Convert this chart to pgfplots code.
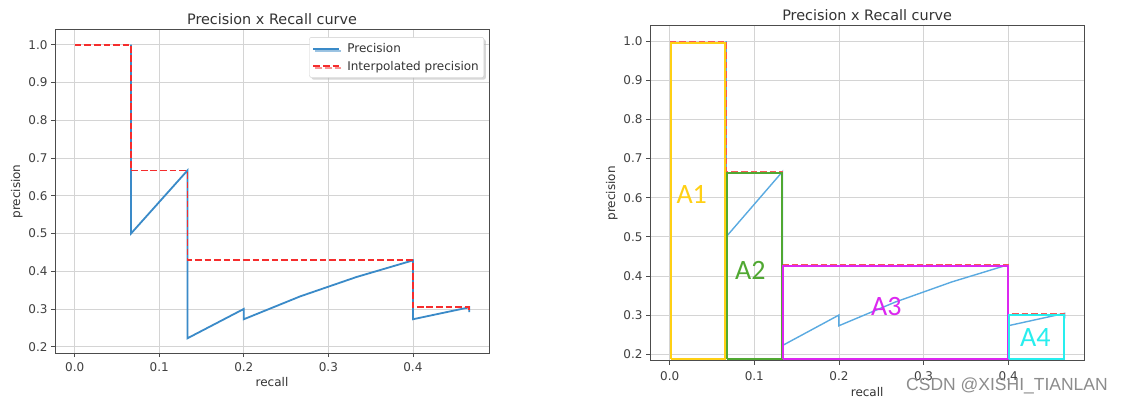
\documentclass[border=0pt]{standalone}
\usepackage{fontspec}
\setmainfont{DejaVu Sans}
\newfontfamily\calib{Carlito}
\newfontfamily\wmfont{Liberation Sans}
\usepackage{pgfplots}
\pgfplotsset{compat=1.18}
\usetikzlibrary{shadows}

\definecolor{pblue}{RGB}{58,138,200}
\definecolor{pblue2}{RGB}{90,170,225}
\definecolor{pred}{RGB}{245,45,45}
\definecolor{cA1}{RGB}{255,208,20}
\definecolor{cA2}{RGB}{80,168,50}
\definecolor{cA3}{RGB}{220,40,240}
\definecolor{cA4}{RGB}{40,238,238}

% precision / interpolated precision (recall, precision)
\pgfplotstableread{
r p
0.0667 1.0
0.0667 0.5
0.1333 0.6667
0.1333 0.5
0.1333 0.4
0.1333 0.3333
0.1333 0.2857
0.1333 0.25
0.1333 0.2222
0.2 0.3
0.2 0.2727
0.2667 0.3333
0.3333 0.3846
0.4 0.4286
0.4 0.4
0.4 0.375
0.4 0.3529
0.4 0.3333
0.4 0.3158
0.4 0.3
0.4 0.2857
0.4 0.2727
0.4667 0.3043
0.4667 0.2917
}\prec
\pgfplotstableread{
r p
0.0 1.0
0.0667 1.0
0.0667 0.6667
0.1333 0.6667
0.1333 0.4286
0.4 0.4286
0.4 0.3043
0.4667 0.3043
0.4667 0.2917
}\interp

\pgfplotsset{
  prstyle/.style={
    scale only axis, anchor=south west,
    xmin=-0.0233, xmax=0.49, ymin=0.1833, ymax=1.0389,
    xtick={0,0.1,0.2,0.3,0.4}, xticklabels={0.0,0.1,0.2,0.3,0.4},
    ytick={0.2,0.3,0.4,0.5,0.6,0.7,0.8,0.9,1.0},
    yticklabels={0.2,0.3,0.4,0.5,0.6,0.7,0.8,0.9,1.0},
    xtick pos=bottom, ytick pos=left,
    grid=major, grid style={line width=0.8pt, draw=black!17},
    axis line style={draw=black!70, line width=1pt},
    tick align=outside, major tick length=4pt,
    tick style={draw=black!70, line width=0.8pt},
    tick label style={font=\fontsize{12}{14}\selectfont, text=black!75},
    xticklabel style={yshift=-2pt},
    title={Precision x Recall curve},
    title style={at={(axis description cs:0.5,1)}, anchor=base, yshift=-0.3pt,
      font=\fontsize{14.4}{16}\selectfont, text=black!80},
    xlabel=recall, ylabel=precision,
    label style={font=\fontsize{12}{14}\selectfont, text=black!80},
  }
}

\begin{document}
\begin{tikzpicture}
\path[use as bounding box, fill=white] (0,0) rectangle (1121pt,405pt);

% left chart
\begin{axis}[prstyle,
    at={(55pt,52pt)}, width=434pt, height=323pt,
    xlabel style={at={(axis description cs:0.5,-0.105)}, anchor=base},
    ylabel style={at={(axis description cs:-0.0806,0.5)}, anchor=base},
    legend style={at={(axis description cs:0.9885,0.978)}, anchor=north east,
      draw=black!20, fill=white, rounded corners=2pt,
      drop shadow={shadow xshift=2pt, shadow yshift=-2pt, fill=black!30},
      font=\fontsize{12}{14}\selectfont, text=black!80,
      inner xsep=3pt, inner ysep=4pt, row sep=3pt},
    legend cell align=left,
    legend image code/.code={\draw[#1] (0pt,0pt) -- (26pt,0pt);},
  ]
  \addplot[pblue, line width=1.8pt, line join=miter] table[x=r, y=p] {\prec};
  \addlegendentry{\hspace{5pt}Precision}
  \addplot[pred, line width=1.8pt, dash pattern=on 6.7pt off 2.9pt] table[x=r, y=p] {\interp};
  \addlegendentry{\hspace{5pt}Interpolated precision}
\end{axis}

% right chart
\begin{axis}[prstyle,
    at={(650pt,44.3pt)}, width=434.3pt, height=334.7pt,
    xticklabel style={yshift=-1.5pt},
    xlabel style={at={(axis description cs:0.5,-0.1076)}, anchor=base},
    ylabel style={at={(axis description cs:-0.0806,0.5)}, anchor=base},
  ]
  \addplot[pblue2, line width=1.4pt] table[x=r, y=p] {\prec};
  \addplot[pred!80, line width=1.4pt, dash pattern=on 6.7pt off 2.9pt] table[x=r, y=p] {\interp};
  \addplot[cA1, line width=2pt] coordinates {(0.002,0.1885) (0.0655,0.1885) (0.0655,0.996) (0.002,0.996) (0.002,0.1885)};
  \addplot[cA2, line width=2pt] coordinates {(0.068,0.1885) (0.1325,0.1885) (0.1325,0.663) (0.068,0.663) (0.068,0.1885)};
  \addplot[cA3, line width=2pt] coordinates {(0.134,0.1885) (0.3995,0.1885) (0.3995,0.4245) (0.134,0.4245) (0.134,0.1885)};
  \addplot[cA4, line width=2pt] coordinates {(0.401,0.1885) (0.4655,0.1885) (0.4655,0.3005) (0.401,0.3005) (0.401,0.1885)};
  \node[text=cA1, font=\calib\fontsize{28}{30}\selectfont] at (axis cs:0.026,0.609) {A1};
  \node[text=cA2, font=\calib\fontsize{28}{30}\selectfont] at (axis cs:0.0954,0.414) {A2};
  \node[text=cA3, font=\calib\fontsize{28}{30}\selectfont] at (axis cs:0.256,0.321) {A3};
  \node[text=cA4, font=\calib\fontsize{28}{30}\selectfont] at (axis cs:0.432,0.242) {A4};
\end{axis}

\node[font=\wmfont\fontsize{17.5}{20}\selectfont, text=black!45] at (1007pt,19pt) {CSDN @XISHI\_TIANLAN};
\end{tikzpicture}
\end{document}
